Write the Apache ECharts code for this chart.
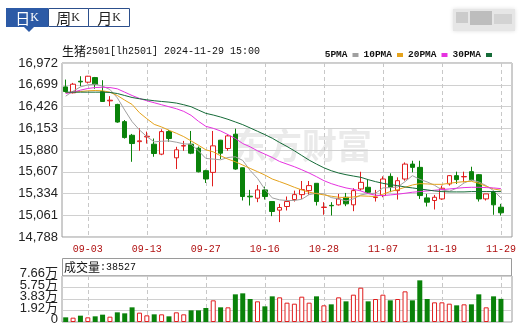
<!DOCTYPE html>
<html><head><meta charset="utf-8">
<script src="https://cdn.jsdelivr.net/npm/echarts@6/dist/echarts.min.js"></script>
<style>html,body{margin:0;padding:0;background:#fff}#c{width:521px;height:329px}</style>
</head><body><div id="c"></div>
<script>
const categories = ['08-29','08-30','09-02','09-03','09-04','09-05','09-06','09-09','09-10','09-11','09-12','09-13','09-18','09-19','09-20','09-23','09-24','09-25','09-26','09-27','09-30','10-08','10-09','10-10','10-11','10-14','10-15','10-16','10-17','10-18','10-21','10-22','10-23','10-24','10-25','10-28','10-29','10-30','10-31','11-01','11-04','11-05','11-06','11-07','11-08','11-11','11-12','11-13','11-14','11-15','11-18','11-19','11-20','11-21','11-22','11-25','11-26','11-27','11-28','11-29'];
const tickLabels = ['09-03','09-13','09-27','10-16','10-28','11-07','11-19','11-29'];
const openP  = [16672,16598,16743,16731,16789,16614,16497,16452,16236,16065,15985,16044,15953,15828,16111,15782,15930,15953,15903,15620,15599,16003,15899,16078,15657,15300,15275,15379,15233,15125,15171,15258,15320,15370,15462,15159,15185,15192,15287,15192,15391,15412,15283,15308,15549,15370,15516,15703,15662,15279,15246,15266,15454,15558,15543,15608,15570,15266,15358,15162];
const closeP = [16614,16706,16735,16806,16702,16489,16505,16231,16036,15961,15995,16052,15836,16111,16024,15882,15935,15840,15607,15516,15932,15840,16057,15641,15296,15292,15379,15296,15108,15158,15233,15320,15383,15433,15233,15163,15180,15266,15204,15370,15474,15350,15287,15516,15412,15495,15703,15662,15308,15225,15287,15400,15558,15508,15547,15508,15266,15329,15192,15092];
const lowP   = [16600,16590,16681,16714,16648,16485,16431,16222,16023,15732,15870,15961,15795,15815,15982,15641,15870,15828,15599,15466,15424,15766,15870,15632,15246,15183,15225,15258,15050,14975,15121,15233,15266,15320,15183,15067,15058,15183,15175,15112,15370,15337,15233,15287,15350,15258,15495,15599,15266,15171,15133,15254,15433,15454,15474,15495,15233,15246,15067,15058];
const highP  = [16764,16722,16806,16810,16797,16756,16556,16460,16256,16082,16152,16111,16024,16140,16132,15920,15994,16119,15924,15632,16119,16007,16078,16148,15660,15379,15441,15420,15233,15204,15296,15370,15491,15491,15462,15225,15225,15329,15341,15400,15607,15508,15379,15549,15587,15537,15724,15745,15745,15329,15316,15433,15566,15608,15608,15670,15578,15329,15370,15204];
const volume = [7770,7215,10545,7770,9435,12210,8880,16095,14430,24420,15540,11100,12765,12765,9435,16095,12765,19425,19425,23310,36075,24420,24420,46065,47730,38295,34410,26085,42735,41070,32190,30525,42180,32190,42735,27750,29415,41070,34410,45510,57165,34410,38295,45510,36075,38295,51060,36075,69375,38295,32745,32745,30525,27750,29415,29415,46065,24420,42735,38527];
const ma5  = [16556,16618,16672,16697,16706,16681,16639,16535,16381,16236,16132,16048,15982,15990,15994,15978,15957,15953,15870,15774,15766,15757,15786,15795,15749,15624,15524,15387,15279,15254,15246,15246,15262,15320,15337,15329,15283,15266,15241,15266,15316,15333,15337,15404,15408,15416,15483,15558,15512,15479,15437,15379,15362,15400,15466,15504,15479,15433,15370,15279];
const ma10 = [16598,16606,16614,16623,16627,16623,16606,16564,16506,16452,16348,16273,16202,16169,16128,16090,16048,15994,15940,15882,15857,15807,15766,15732,15691,15649,15608,15566,15516,15483,15449,15412,15379,15350,15333,15316,15300,15287,15283,15291,15304,15300,15296,15325,15358,15383,15412,15441,15458,15454,15449,15449,15462,15474,15483,15487,15462,15424,15391,15375];
const ma20 = [16589,16606,16631,16652,16664,16668,16664,16648,16606,16564,16527,16498,16473,16448,16423,16398,16365,16315,16240,16177,16152,16119,16073,16024,15961,15920,15870,15828,15786,15736,15703,15670,15632,15591,15545,15495,15458,15429,15404,15387,15366,15333,15312,15308,15316,15325,15337,15350,15358,15366,15375,15383,15391,15400,15408,15412,15412,15408,15404,15395];
const ma30 = [16606,16606,16606,16606,16606,16606,16602,16589,16564,16539,16523,16510,16498,16489,16481,16469,16448,16423,16381,16340,16319,16294,16265,16232,16198,16157,16115,16073,16028,15974,15924,15870,15811,15753,15703,15657,15620,15591,15570,15553,15537,15508,15483,15462,15445,15433,15416,15404,15391,15379,15366,15358,15354,15354,15354,15358,15358,15358,15358,15358];
const priceMin = 14788, priceMax = 16972, priceStep = 273;
const volMax = 76620, volStep = 19155;
const volTickLabels = ['0', '1.92万', '3.83万', '5.75万', '7.66万'];
const lastVolume = 38527;

const RED = '#e01e1e', GREEN = '#0a820a';
const candleData = openP.map((o, i) => [o, closeP[i], lowP[i], highP[i]]);
const volData = volume.map((v, i) => ({
  value: v,
  itemStyle: closeP[i] >= openP[i] ? { color: '#fff', borderColor: RED, borderWidth: 1 } : { color: GREEN, borderColor: GREEN, borderWidth: 0 }
}));
const volLabelData = volTickLabels.map((t, i) => [0, i * volStep]);
const isTick = (idx) => tickLabels.indexOf(categories[idx]) >= 0;
const chart = echarts.init(document.getElementById('c'), null, { renderer: 'canvas' });
const MONO = 'Liberation Mono, DejaVu Sans Mono, monospace';
const SANS = 'Liberation Sans, Noto Sans CJK SC, sans-serif';
const dashed = { show: true, interval: (i) => isTick(i), alignWithLabel: true, lineStyle: { color: '#c8c8c8', type: [4, 3], width: 1 } };

chart.setOption({
  animation: false,
  backgroundColor: '#fff',
  grid: [
    { left: 62, top: 63, width: 450, height: 174, show: true, borderColor: '#9a9a9a', borderWidth: 1, backgroundColor: 'transparent' },
    { left: 62, top: 276, width: 450, height: 46, show: true, borderColor: '#9a9a9a', borderWidth: 1, backgroundColor: 'transparent' }
  ],
  legend: {
    top: 45, right: 24, align: 'right', icon: 'rect', itemWidth: 6, itemHeight: 4, itemGap: 5,
    textStyle: { fontFamily: MONO, fontSize: 9.5, fontWeight: 'bold', color: '#111' },
    data: ['5PMA', '10PMA', '20PMA', '30PMA']
  },
  xAxis: [
    { type: 'category', gridIndex: 0, data: categories, max: categories.length, boundaryGap: true,
      axisLine: { show: false }, axisTick: { show: false },
      axisLabel: { interval: (i) => isTick(i), color: '#b01010', fontFamily: MONO, fontSize: 10, margin: 7 },
      splitLine: dashed },
    { type: 'category', gridIndex: 1, data: categories, max: categories.length, boundaryGap: true,
      axisLine: { show: false }, axisTick: { show: false }, axisLabel: { show: false },
      splitLine: dashed }
  ],
  yAxis: [
    { type: 'value', gridIndex: 0, min: priceMin, max: priceMax, interval: priceStep, scale: true,
      axisLine: { show: false }, axisTick: { show: false },
      axisLabel: { color: '#222', fontFamily: SANS, fontSize: 13, margin: 4, showMinLabel: true, showMaxLabel: true },
      splitLine: { show: true, lineStyle: { color: '#d0d0d0', width: 1 } } },
    { type: 'value', gridIndex: 1, min: 0, max: volMax, interval: volStep,
      axisLine: { show: false }, axisTick: { show: false }, axisLabel: { show: false },
      splitLine: { show: true, lineStyle: { color: '#d0d0d0', width: 1 } } }
  ],
  series: [
    { type: 'candlestick', name: 'K', xAxisIndex: 0, yAxisIndex: 0, data: candleData, barWidth: 5,
      itemStyle: { color: '#fff', color0: GREEN, borderColor: RED, borderColor0: GREEN, borderWidth: 1 }, z: 3 },
    { type: 'line', name: '5PMA', data: ma5, showSymbol: false, symbol: 'none', color: '#a0a0a0', lineStyle: { width: 1, color: '#a0a0a0' }, z: 4 },
    { type: 'line', name: '10PMA', data: ma10, showSymbol: false, symbol: 'none', color: '#e5a31c', lineStyle: { width: 1, color: '#e5a31c' }, z: 4 },
    { type: 'line', name: '20PMA', data: ma20, showSymbol: false, symbol: 'none', color: '#e632e0', lineStyle: { width: 1, color: '#e632e0' }, z: 4 },
    { type: 'line', name: '30PMA', data: ma30, showSymbol: false, symbol: 'none', color: '#156b38', lineStyle: { width: 1, color: '#156b38' }, z: 4 },
    { type: 'bar', name: 'VOL', xAxisIndex: 1, yAxisIndex: 1, data: volData, barWidth: 5 },
    { type: 'custom', name: 'volLabels', xAxisIndex: 1, yAxisIndex: 1, data: volLabelData, silent: true, clip: false, z: 5,
      encode: { x: 0, y: 1 },
      renderItem: (params, api) => {
        const p = api.coord([0, api.value(1)]);
        return { type: 'text', x: 58, y: p[1] - 2.5,
          style: { text: volTickLabels[params.dataIndex], align: 'right', verticalAlign: 'middle',
            font: '13px "Liberation Sans", "Noto Sans CJK SC"', fill: '#222' } };
      } }
  ],
  graphic: [
    { type: 'text', left: 232, top: 128, z: 0, silent: true,
      style: { text: '东方财富', font: 'bold 35px "Noto Sans CJK SC"', fill: 'rgba(190,190,190,0.33)' } },
    { type: 'rect', shape: { x: 6, y: 8, width: 42, height: 19 }, style: { fill: '#2c5aa6' } },
    { type: 'polygon', shape: { points: [[24, 27], [34, 27], [29, 32]] }, style: { fill: '#2c5aa6' } },
    { type: 'rect', shape: { x: 48.5, y: 8.5, width: 40, height: 18 }, style: { fill: '#fff', stroke: '#2c4f8c', lineWidth: 1 } },
    { type: 'rect', shape: { x: 88.5, y: 8.5, width: 41, height: 18 }, style: { fill: '#fff', stroke: '#2c4f8c', lineWidth: 1 } },
    { type: 'text', x: 27, y: 18, style: { text: '{a|日}{b|K}', align: 'center', verticalAlign: 'middle',
      rich: { a: { fontFamily: 'Noto Sans CJK SC', fontSize: 15, fill: '#fff' }, b: { fontFamily: 'Liberation Serif', fontSize: 12, fill: '#fff' } } } },
    { type: 'text', x: 68, y: 18, style: { text: '{a|周}{b|K}', align: 'center', verticalAlign: 'middle',
      rich: { a: { fontFamily: 'Noto Sans CJK SC', fontSize: 15, fill: '#222' }, b: { fontFamily: 'Liberation Serif', fontSize: 12, fill: '#222' } } } },
    { type: 'text', x: 109, y: 18, style: { text: '{a|月}{b|K}', align: 'center', verticalAlign: 'middle',
      rich: { a: { fontFamily: 'Noto Sans CJK SC', fontSize: 15, fill: '#222' }, b: { fontFamily: 'Liberation Serif', fontSize: 12, fill: '#222' } } } },
    { type: 'rect', shape: { x: 453, y: 9, width: 62, height: 22 }, style: { fill: '#e6e6e6', shadowBlur: 4, shadowColor: '#ddd' } },
    { type: 'rect', shape: { x: 456, y: 12, width: 12, height: 11 }, style: { fill: '#cbcbcb' } },
    { type: 'rect', shape: { x: 470, y: 11, width: 22, height: 14 }, style: { fill: '#bdbdbd' } },
    { type: 'rect', shape: { x: 494, y: 14, width: 18, height: 10 }, style: { fill: '#d3d3d3' } },
    { type: 'text', x: 62, y: 51, style: { text: '{c|生猪}{a|2501[lh2501] 2024-11-29 15:00}', verticalAlign: 'middle',
      rich: { c: { fontFamily: 'Noto Sans CJK SC', fontSize: 12, fill: '#111' }, a: { fontFamily: MONO, fontSize: 10, fill: '#111' } } } },
    { type: 'rect', shape: { x: 62.5, y: 258.5, width: 449, height: 17.5 }, style: { fill: 'none', stroke: '#9a9a9a', lineWidth: 1 } },
    { type: 'text', x: 64, y: 267, style: { text: '{c|成交量}{a|:' + lastVolume + '}', verticalAlign: 'middle',
      rich: { c: { fontFamily: 'Noto Sans CJK SC', fontSize: 12, fill: '#111' }, a: { fontFamily: MONO, fontSize: 10, fill: '#111' } } } }
  ]
});
</script></body></html>
